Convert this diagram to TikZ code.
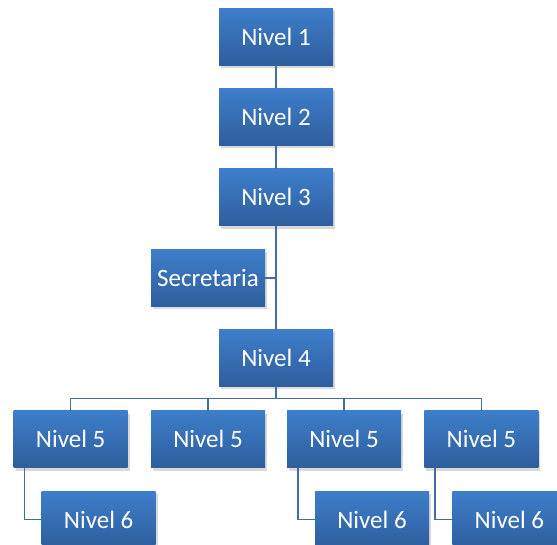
\documentclass[tikz,border=0pt]{standalone}
\usepackage{fontspec}
\setmainfont{Carlito}
\usetikzlibrary{positioning,shadows}

\definecolor{boxtop}{RGB}{62,126,203}
\definecolor{boxbottom}{RGB}{46,94,157}
\definecolor{linkblue}{RGB}{68,108,164}

\begin{document}
\begin{tikzpicture}[x=1pt,y=1pt]
\tikzstyle{box}=[rectangle, minimum width=114pt, minimum height=57pt, inner sep=0pt, top color=boxtop, bottom color=boxbottom, text=white, font=\fontsize{25}{30}\selectfont, drop shadow={opacity=0.3, shadow xshift=2pt, shadow yshift=-3pt}]
\tikzstyle{connect}=[draw=linkblue, line width=1.6pt]

  \useasboundingbox (0,0) rectangle (557,-544);
  \clip (0,0) rectangle (557,-544);

%% Top chain
  \node[box] (n1) at (276,-36.5) {Nivel 1};
  \node[box] (n2) [below=23pt of n1] {Nivel 2};
  \node[box] (n3) [below=23pt of n2] {Nivel 3};
  \node[box] (sec) [below=23pt of n3, xshift=-68pt] {Secretaria};
  \node[box] (n4) [below=103pt of n3] {Nivel 4};

%% Level 5
  \node[box] (n5b) [below=24pt of n4, xshift=-68pt] {Nivel 5};
  \node[box] (n5c) [below=24pt of n4, xshift=68pt] {Nivel 5};
  \node[box] (n5a) [left=23pt of n5b] {Nivel 5};
  \node[box] (n5d) [right=23pt of n5c] {Nivel 5};

%% Level 6
  \node[box] (n6a) [below=23pt of n5a, xshift=28pt] {Nivel 6};
  \node[box] (n6c) [below=23pt of n5c, xshift=28pt] {Nivel 6};
  \node[box] (n6d) [below=23pt of n5d, xshift=28pt] {Nivel 6};

  \path (n4.south) ++(0,-12pt) coordinate (bus);

  \path[connect]
           (n1) -- (n2)
           (n2) -- (n3)
           (n3) -- (n4)
           (sec.east) -- (sec.east -| n3.south)
           (n4.south) -- (bus);

  \foreach \n in {n5a,n5b,n5c,n5d}
    \draw[connect] (bus) -| (\n.north);

  % Level 6 links
  \draw[connect] ([xshift=11pt]n5a.south west) |- (n6a.west);
  \draw[connect] ([xshift=11pt]n5c.south west) |- (n6c.west);
  \draw[connect] ([xshift=11pt]n5d.south west) |- (n6d.west);
\end{tikzpicture}
\end{document}
